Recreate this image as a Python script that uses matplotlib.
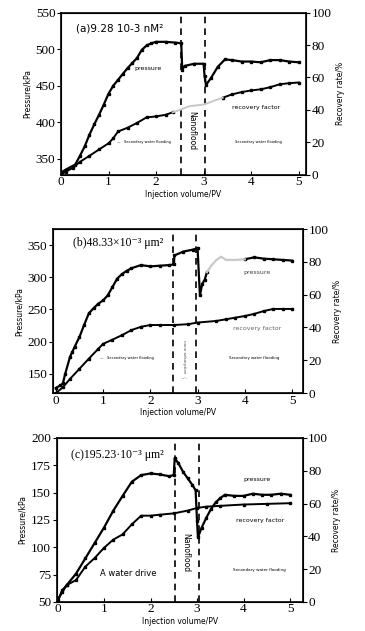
import numpy as np
import matplotlib.pyplot as plt

# ---------------- panel (a) ----------------
xa_p = [0, 0.1, 0.3, 0.4, 0.5, 0.6, 0.7, 0.8, 0.9, 1.0, 1.1, 1.2, 1.3, 1.4, 1.5, 1.6, 1.7, 1.8, 1.9, 2.0,
        2.2, 2.4, 2.53, 2.55, 2.6, 2.8, 3.0, 3.02, 3.05, 3.15, 3.3, 3.45, 3.6, 3.8, 4.0, 4.2, 4.4, 4.6, 4.8, 5.0]
pa = [331, 335, 342, 354, 367, 383, 397, 410, 424, 439, 450, 458, 466, 474, 481, 488, 499, 505, 508, 510,
      510, 509, 508, 472, 477, 480, 480, 463, 451, 460, 476, 486, 485, 483, 483, 482, 485, 485, 483, 482]
xa_r = [0, 0.1, 0.25, 0.4, 0.6, 0.8, 1.0, 1.1, 1.2, 1.4, 1.6, 1.8, 2.0, 2.2, 2.35,
        2.5, 2.7, 3.0, 3.3, 3.4, 3.6, 3.8, 4.0, 4.2, 4.4, 4.6, 4.8, 5.0]
ra = [0, 2, 4.2, 8, 11.7, 15.6, 19.4, 22.5, 26.7, 29, 32, 35.4, 36, 37, 38.5,
      40, 42.3, 43.3, 46.5, 47.5, 49.6, 51, 52, 52.7, 54, 55.8, 56.5, 56.9]

# ---------------- panel (b) ----------------
xb_p = [0, 0.1, 0.15, 0.2, 0.3, 0.35, 0.4, 0.5, 0.6, 0.7, 0.8, 0.9, 1.0, 1.1, 1.2, 1.3, 1.4, 1.5, 1.6, 1.8,
        2.0, 2.2, 2.4, 2.5, 2.51, 2.7, 2.9, 3.0, 3.05, 3.1, 3.15, 3.2, 3.3, 3.4, 3.5, 3.6, 3.8, 4.0, 4.2,
        4.4, 4.6, 4.8, 5.0]
pb = [128, 132, 135, 150, 176, 184, 192, 207, 226, 244, 252, 259, 264, 272, 285, 298, 305, 310, 314, 319,
      317, 318, 319, 320, 334, 340, 343, 345, 272, 290, 296, 308, 319, 327, 332, 327, 327, 328, 331,
      329, 328, 327, 326]
xb_r = [0, 0.15, 0.3, 0.5, 0.7, 0.9, 1.0, 1.2, 1.4, 1.6, 1.8, 2.0, 2.2, 2.5, 2.8, 3.0, 3.4, 3.6, 3.8,
        4.0, 4.2, 4.4, 4.6, 4.8, 5.0]
rb = [0, 3.5, 8.6, 14.8, 21, 27, 30, 32.6, 35.3, 38.4, 40.4, 41.5, 41.5, 41.5, 42, 43, 44, 45, 46,
      47, 48.3, 50, 51.3, 51.3, 51.3]

# ---------------- panel (c) ----------------
xc_p = [0, 0.1, 0.2, 0.4, 0.6, 0.8, 1.0, 1.2, 1.4, 1.6, 1.8, 2.0, 2.2, 2.4, 2.5, 2.52, 2.6, 2.7, 2.8, 2.9,
        2.97, 3.0, 3.02, 3.1, 3.2, 3.3, 3.4, 3.5, 3.6, 3.8, 4.0, 4.2, 4.4, 4.6, 4.8, 5.0]
pc = [51.5, 59, 65.5, 76, 90, 104, 118, 133.5, 147, 160, 166, 167.5, 166.6, 165, 166, 181.5, 176.8, 169,
      163, 157, 152, 124, 109, 118, 127, 135, 141, 145, 148, 147, 147, 149, 148, 148, 149, 148]
xc_r = [0, 0.1, 0.2, 0.4, 0.6, 0.8, 1.0, 1.2, 1.4, 1.6, 1.8, 2.0, 2.2, 2.5, 2.8, 3.0, 3.2, 3.5, 4.0, 4.5, 5.0]
rc = [0, 7.2, 10.3, 13.4, 21.6, 26.8, 33, 38, 41.2, 47.4, 52.6, 52.6, 53.2, 54, 55.7, 57.3, 58.1, 58.6,
      59.4, 59.8, 60.2]

serif = "Liberation Serif"


def draw_line(ax, x, y, gray=None, lw=1.6):
    x = np.array(x, float)
    y = np.array(y, float)
    if gray is None:
        ax.plot(x, y, color="black", lw=lw, marker="s", ms=1.8)
        return
    m = (x >= gray[0]) & (x <= gray[1])
    yb = y.copy()
    i0, i1 = np.where(m)[0][[0, -1]]
    yb[i0 + 1:i1] = np.nan
    ax.plot(x, yb, color="black", lw=lw, marker="s", ms=1.8)
    ax.plot(x[i0:i1 + 1], y[i0:i1 + 1], color="#c8c8c8", lw=lw)


def setup(ax, xlim, ylim, yticks):
    ax.set_xlim(*xlim)
    ax.set_ylim(*ylim)
    ax.set_xticks([0, 1, 2, 3, 4, 5])
    ax.set_yticks(yticks)
    for s in ax.spines.values():
        s.set_linewidth(1.2)
    ax.tick_params(axis="x", direction="in", length=3, labelsize=9.5, pad=1)
    ax.tick_params(axis="y", direction="out", length=3, labelsize=9.5, pad=1)
    for lab in ax.get_xticklabels() + ax.get_yticklabels():
        lab.set_fontfamily(serif)
    ax.set_xlabel("Injection volume/PV", fontsize=5.5, labelpad=1)
    ax.set_ylabel("Pressure/kPa", fontsize=5.5, labelpad=3)
    ax2 = ax.twinx()
    ax2.set_ylim(0, 100)
    ax2.set_yticks([0, 20, 40, 60, 80, 100])
    ax2.tick_params(axis="y", direction="out", length=3, labelsize=9.5, pad=1)
    for lab in ax2.get_yticklabels():
        lab.set_fontfamily(serif)
    ax2.set_ylabel("Recovery rate/%", fontsize=5.5, labelpad=3)
    return ax2


fig = plt.figure(figsize=(3.65, 6.31), dpi=100)

# (a)
ax = fig.add_axes([0.167, 0.723, 0.671, 0.257])
ax2 = setup(ax, (0, 5.15), (328, 550), [350, 400, 450, 500, 550])
draw_line(ax, xa_p, pa)
draw_line(ax2, xa_r, ra, gray=(2.35, 3.4), lw=1.4)
for xv in (2.53, 3.03):
    ax.axvline(xv, color="black", lw=1.2, ls=(0, (4, 3)))
ax.text(0.06, 0.93, "(a)9.28 10-3 nM²", transform=ax.transAxes, fontsize=7.5, va="top")
ax.text(1.83, 472, "pressure", fontsize=4.5, ha="center")
ax.text(4.1, 418, "recovery factor", fontsize=4.5, ha="center")
ax.text(2.75, 388, "Nanoflood", fontsize=5.5, rotation=-90, ha="center", va="center")
ax.text(1.75, 372, "—   Secondary water flooding", fontsize=2.6, ha="center")
ax.text(4.15, 372, "Secondary water flooding", fontsize=2.6, ha="center")

# (b)
ax = fig.add_axes([0.145, 0.377, 0.685, 0.26])
ax2 = setup(ax, (-0.06, 5.23), (120, 375), [150, 200, 250, 300, 350])
draw_line(ax, xb_p, pb, gray=(3.2, 4.1))
draw_line(ax2, xb_r, rb, lw=1.4)
for xv in (2.48, 2.97):
    ax.axvline(xv, color="black", lw=1.2, ls=(0, (4, 3)))
ax.text(0.08, 0.95, "(b)48.33×10⁻³ μm²", transform=ax.transAxes, fontsize=8.5,
        va="top", family=[serif, "DejaVu Sans"])
ax.text(4.25, 305, "pressure", fontsize=4.5, ha="center", color="#444444")
ax.text(4.25, 218, "recovery factor", fontsize=4.5, ha="center", color="#666666")
ax.text(2.72, 177, "nano adsorption", fontsize=3, rotation=-90, ha="center", va="center", color="#555555")
ax.text(2.72, 141, "--·-", fontsize=3, ha="center")
ax.text(1.5, 173, "—   Secondary water flooding", fontsize=2.6, ha="center")
ax.text(4.2, 173, "Secondary water flooding", fontsize=2.8, ha="center")

# (c)
ax = fig.add_axes([0.155, 0.046, 0.674, 0.26])
ax2 = setup(ax, (-0.02, 5.27), (50, 200), [50, 75, 100, 125, 150, 175, 200])
draw_line(ax, xc_p, pc)
draw_line(ax2, xc_r, rc, lw=1.4)
for xv in (2.52, 3.04):
    ax.axvline(xv, color="black", lw=1.2, ls=(0, (4, 3)))
ax.text(0.06, 0.93, "(c)195.23·10⁻³ μm²", transform=ax.transAxes, fontsize=8.5,
        va="top", family=[serif, "DejaVu Sans"])
ax.text(1.52, 76, "A water drive", fontsize=6, ha="center", va="center")
ax.text(2.75, 95, "Nanoflood", fontsize=5.5, rotation=-90, ha="center", va="center")
ax.text(4.28, 161, "pressure", fontsize=4.5, ha="center")
ax.text(4.35, 123, "recovery factor", fontsize=4.5, ha="center")
ax.text(4.35, 78, "Secondary water flooding", fontsize=3, ha="center")

fig.savefig("out.png", dpi=100)
